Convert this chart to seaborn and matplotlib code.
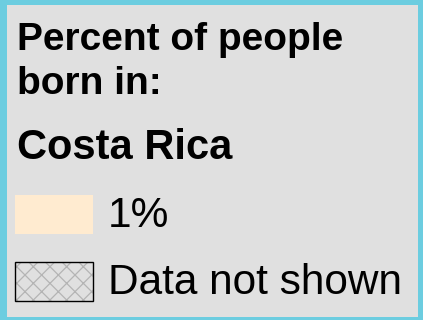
import matplotlib
matplotlib.use("Agg")
import matplotlib.pyplot as plt
import matplotlib.patches as mpatches
import seaborn as sns

title_lines = ["Percent of people", "born in:"]
country = "Costa Rica"
legend_labels = ["1%", "Data not shown"]
legend_colors = ["#ffebd0", "#e0e0e0"]
legend_hatch = [None, "xx"]

sns.set_style("white")
plt.rcParams["font.family"] = ["Liberation Sans", "DejaVu Sans"]
plt.rcParams["text.color"] = "black"
plt.rcParams["hatch.linewidth"] = 0.9

W, H = 423, 320
fig = plt.figure(figsize=(W / 100, H / 100), dpi=100)
fig.patch.set_facecolor("#6ccde0")
ax = fig.add_axes([0, 0, 1, 1])
ax.set_xlim(0, W)
ax.set_ylim(H, 0)
ax.axis("off")

# grey panel inside the cyan frame
ax.add_patch(mpatches.Rectangle((7, 5), 411, 312, facecolor="#e0e0e0", edgecolor="none"))

ax.text(17, 40, title_lines[0], fontsize=28, fontweight="bold", va="center", ha="left")
ax.text(17, 84, title_lines[1], fontsize=28, fontweight="bold", va="center", ha="left")
ax.text(17, 148, country, fontsize=30, fontweight="bold", va="center", ha="left")

for i, (lab, col, hatch) in enumerate(zip(legend_labels, legend_colors, legend_hatch)):
    y = 195 + i * 67
    ax.add_patch(mpatches.Rectangle(
        (15, y), 78, 39, facecolor=col, edgecolor="#b4b4b4" if hatch else "none",
        linewidth=0, hatch=hatch))
    if hatch:
        ax.add_patch(mpatches.Rectangle((15, y), 78, 39, facecolor="none",
                                        edgecolor="black", linewidth=1))
    ax.text(108, y + 21, lab, fontsize=30.5, va="center", ha="left")

fig.savefig("out.png", dpi=100)
